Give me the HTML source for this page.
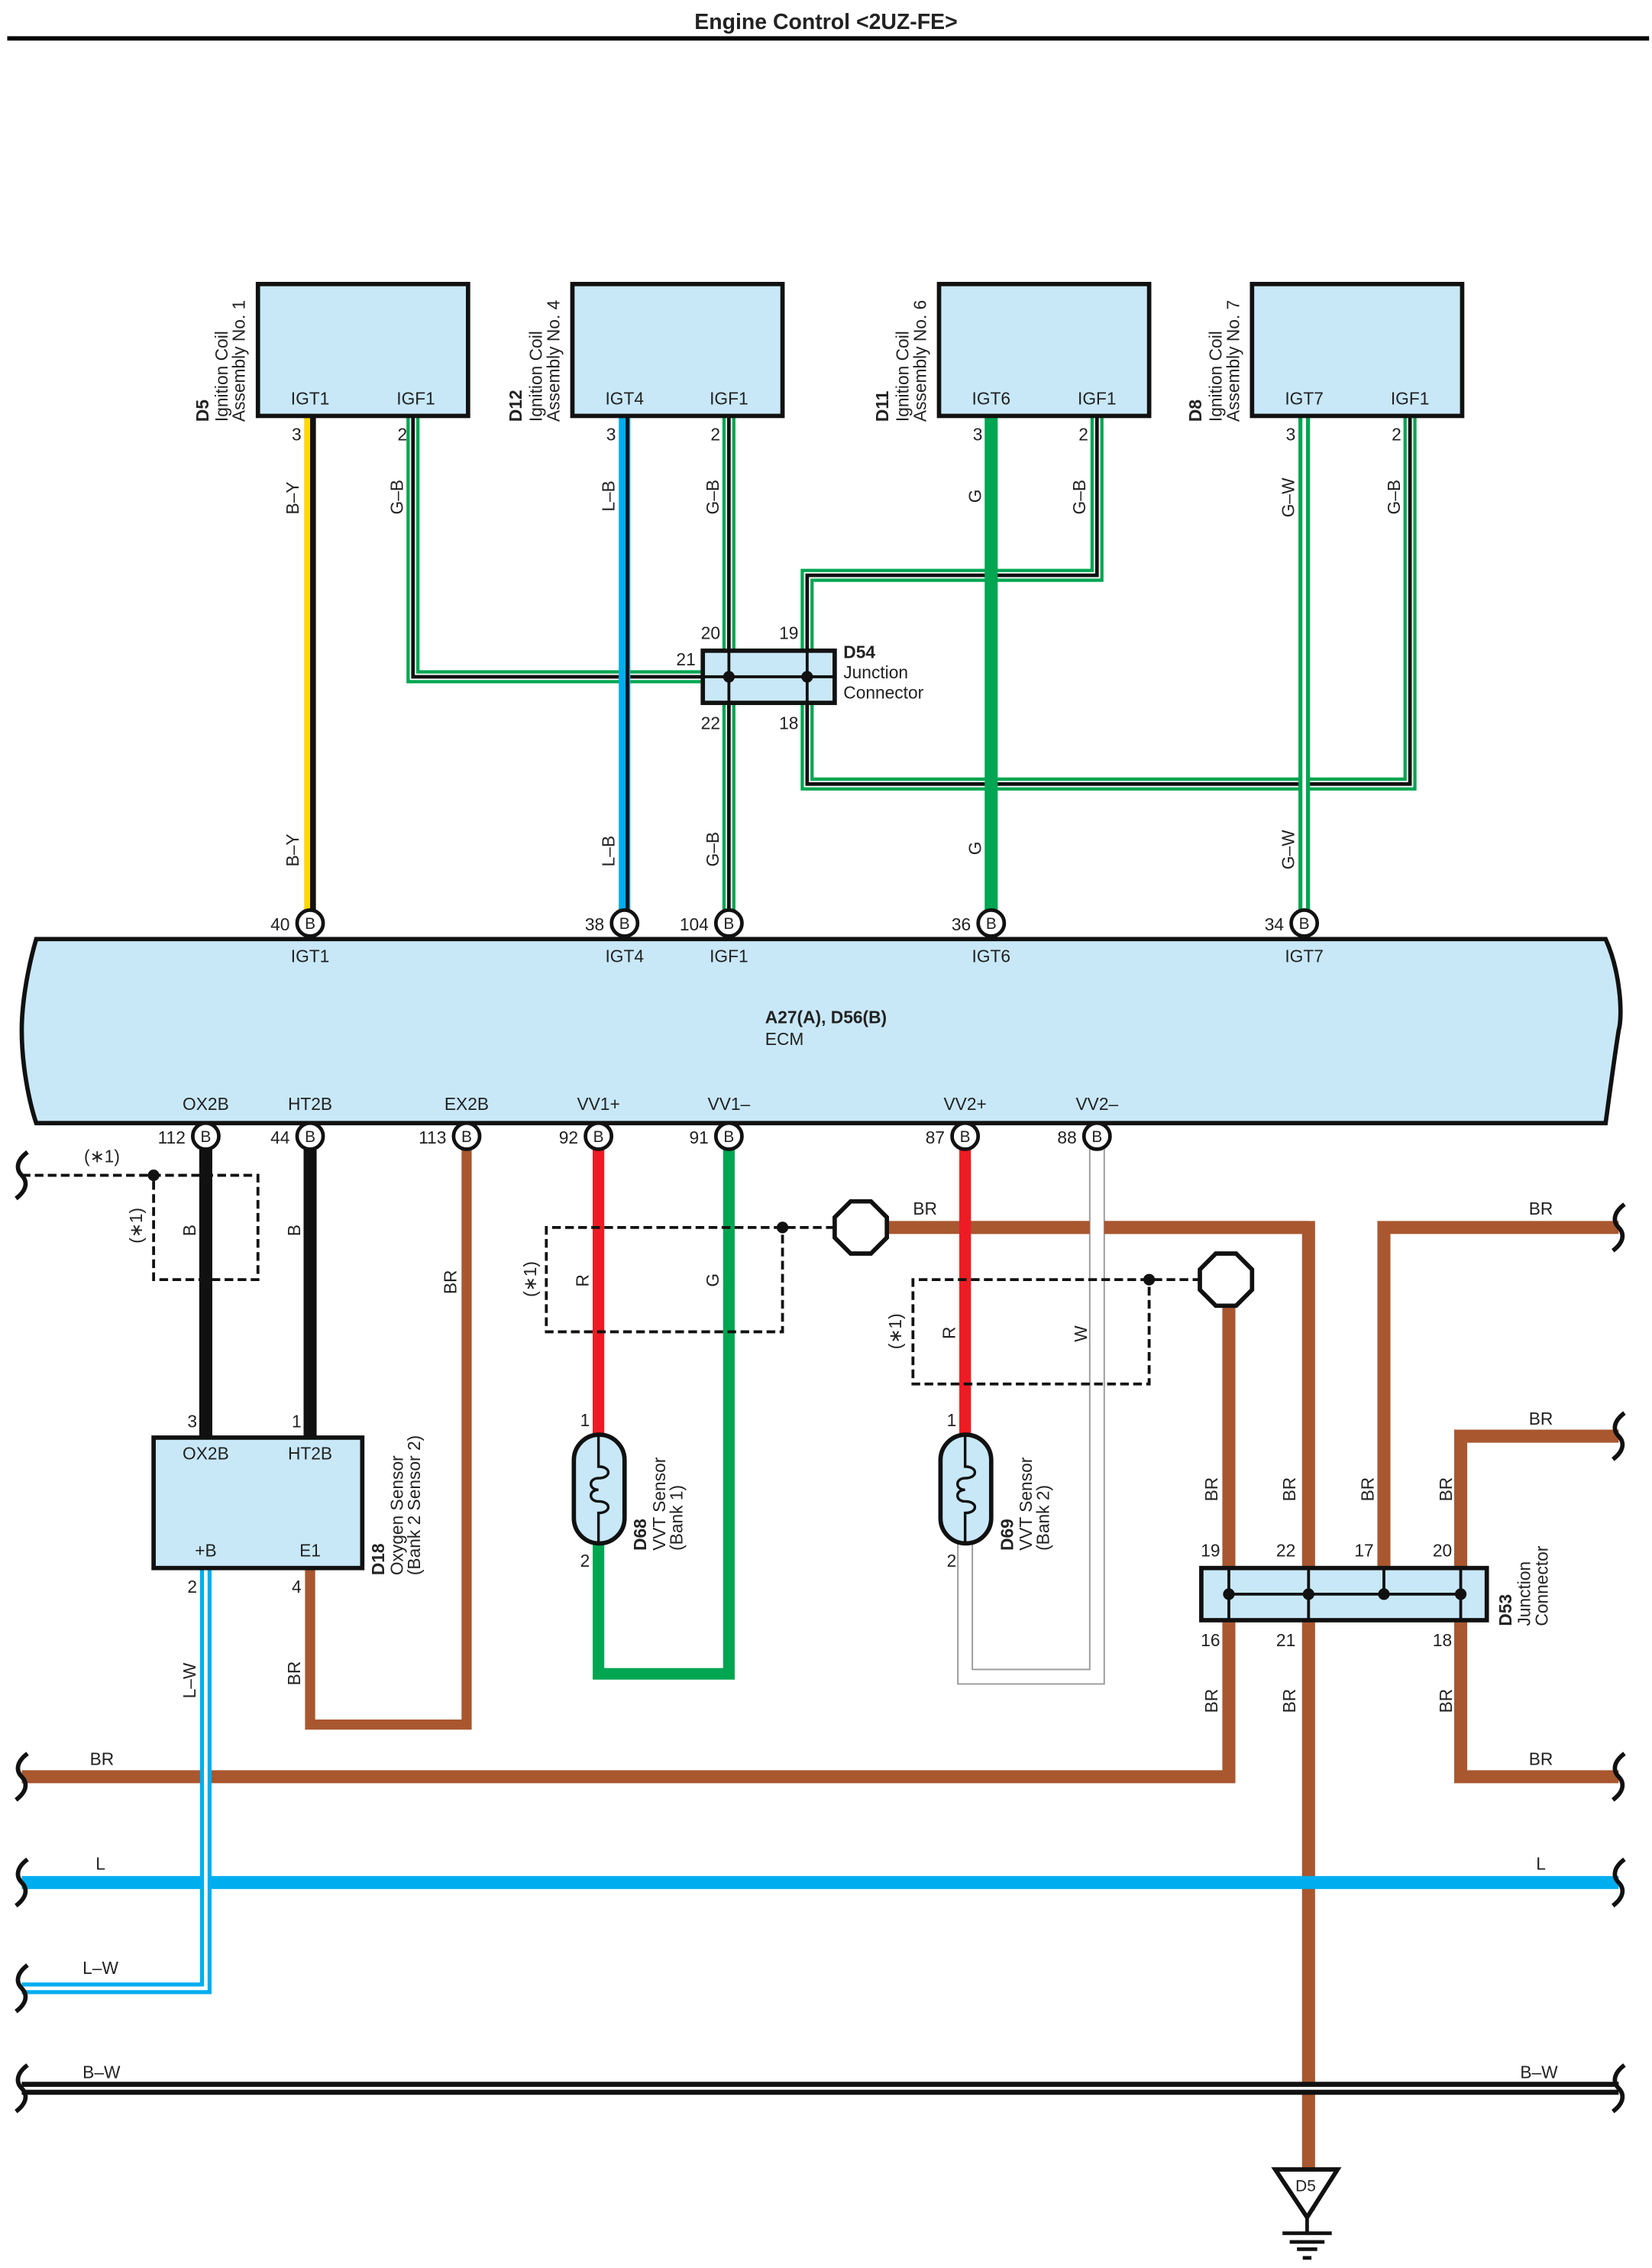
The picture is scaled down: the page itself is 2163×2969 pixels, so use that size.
<!DOCTYPE html>
<html><head><meta charset="utf-8"><style>
html,body{margin:0;padding:0;background:#fff}
svg{display:block}
text{font-family:"Liberation Sans",sans-serif;fill:#222}
</style></head><body>
<svg width="2163" height="2969" viewBox="0 0 1140 1565" preserveAspectRatio="none" xmlns="http://www.w3.org/2000/svg">
<defs>
<g id="sq"><path d="M4,-16 C-4,-10 -4,-4 0,0 C4,4 4,10 -4,16" fill="none" stroke="#111" stroke-width="3"/></g>
</defs>
<text x="570" y="20" font-size="15" font-weight="bold" text-anchor="middle" fill="#000">Engine Control &lt;2UZ-FE&gt;</text>
<rect x="5" y="25" width="1133" height="3" fill="#000"/>

<g fill="none" stroke-linejoin="miter">
<path d="M214,287V637" stroke="#111" stroke-width="8"/>
<path d="M212,287V637" stroke="#ffd800" stroke-width="4"/>
<path d="M285,287V467H486" stroke="#00a651" stroke-width="9"/>
<path d="M285,287V467H486" stroke="#fff" stroke-width="4.5"/>
<path d="M285,287V467H486" stroke="#111" stroke-width="2.5"/>
<path d="M431,287V637" stroke="#00aeef" stroke-width="8"/>
<path d="M433,287V637" stroke="#111" stroke-width="2.5"/>
<path d="M503,287V637" stroke="#00a651" stroke-width="9"/>
<path d="M503,287V637" stroke="#fff" stroke-width="4.5"/>
<path d="M503,287V637" stroke="#111" stroke-width="2.5"/>
<path d="M757,287V397H557V449" stroke="#00a651" stroke-width="9"/>
<path d="M757,287V397H557V449" stroke="#fff" stroke-width="4.5"/>
<path d="M757,287V397H557V449" stroke="#111" stroke-width="2.5"/>
<path d="M973,287V541H557V485" stroke="#00a651" stroke-width="9"/>
<path d="M973,287V541H557V485" stroke="#fff" stroke-width="4.5"/>
<path d="M973,287V541H557V485" stroke="#111" stroke-width="2.5"/>
<path d="M684,287V637" stroke="#00a651" stroke-width="9"/>
<path d="M900,287V637" stroke="#00a651" stroke-width="8"/>
<path d="M900,287V637" stroke="#fff" stroke-width="2.5"/>
</g>

<g fill="#c8e8f8" stroke="#111" stroke-width="3">
<rect x="178" y="196" width="145" height="91"/>
<rect x="395" y="196" width="145" height="91"/>
<rect x="648" y="196" width="145" height="91"/>
<rect x="864" y="196" width="145" height="91"/>
<rect x="485" y="449" width="91" height="36"/>
</g>
<g stroke="#111" stroke-width="2"><path d="M485,467H576M503,449V485M557,449V485"/></g>
<circle cx="503" cy="467" r="4" fill="#111"/><circle cx="557" cy="467" r="4" fill="#111"/>
<g font-size="12" text-anchor="middle">
<text x="214" y="279">IGT1</text><text x="287" y="279">IGF1</text>
<text x="431" y="279">IGT4</text><text x="503" y="279">IGF1</text>
<text x="684" y="279">IGT6</text><text x="757" y="279">IGF1</text>
<text x="900" y="279">IGT7</text><text x="973" y="279">IGF1</text>
</g>
<g font-size="12" text-anchor="end">
<text x="208" y="304">3</text><text x="281" y="304">2</text>
<text x="425" y="304">3</text><text x="497" y="304">2</text>
<text x="678" y="304">3</text><text x="751" y="304">2</text>
<text x="894" y="304">3</text><text x="967" y="304">2</text>
<text x="497" y="441">20</text><text x="551" y="441">19</text><text x="480" y="459">21</text>
<text x="497" y="503">22</text><text x="551" y="503">18</text>
</g>
<text x="582" y="454" font-size="12" font-weight="bold">D54</text>
<text x="582" y="468" font-size="12">Junction</text>
<text x="582" y="482" font-size="12">Connector</text>
<g font-size="12">
<g transform="translate(144,291) rotate(-90)"><text font-weight="bold">D5</text></g>
<g transform="translate(157,291) rotate(-90)"><text>Ignition Coil</text></g>
<g transform="translate(169,291) rotate(-90)"><text>Assembly No. 1</text></g>
<g transform="translate(360,291) rotate(-90)"><text font-weight="bold">D12</text></g>
<g transform="translate(374,291) rotate(-90)"><text>Ignition Coil</text></g>
<g transform="translate(386,291) rotate(-90)"><text>Assembly No. 4</text></g>
<g transform="translate(613,291) rotate(-90)"><text font-weight="bold">D11</text></g>
<g transform="translate(627,291) rotate(-90)"><text>Ignition Coil</text></g>
<g transform="translate(639,291) rotate(-90)"><text>Assembly No. 6</text></g>
<g transform="translate(829,291) rotate(-90)"><text font-weight="bold">D8</text></g>
<g transform="translate(843,291) rotate(-90)"><text>Ignition Coil</text></g>
<g transform="translate(855,291) rotate(-90)"><text>Assembly No. 7</text></g>
</g>
<g font-size="12">
<g transform="translate(206,355) rotate(-90)"><text>B–Y</text></g>
<g transform="translate(278,355) rotate(-90)"><text>G–B</text></g>
<g transform="translate(424,353) rotate(-90)"><text>L–B</text></g>
<g transform="translate(496,355) rotate(-90)"><text>G–B</text></g>
<g transform="translate(677,347) rotate(-90)"><text>G</text></g>
<g transform="translate(749,355) rotate(-90)"><text>G–B</text></g>
<g transform="translate(893,357) rotate(-90)"><text>G–W</text></g>
<g transform="translate(966,355) rotate(-90)"><text>G–B</text></g>
<g transform="translate(206,598) rotate(-90)"><text>B–Y</text></g>
<g transform="translate(424,598) rotate(-90)"><text>L–B</text></g>
<g transform="translate(496,598) rotate(-90)"><text>G–B</text></g>
<g transform="translate(677,590) rotate(-90)"><text>G</text></g>
<g transform="translate(893,600) rotate(-90)"><text>G–W</text></g>
</g>

<path d="M25,648 H1108 C1118,670 1120,700 1117,711 C1114,730 1110,760 1108,775 H25 C20,760 15,735 15,711 C15,690 20,665 25,648 Z" fill="#c8e8f8" stroke="#111" stroke-width="3"/>
<text x="528" y="706" font-size="12" font-weight="bold">A27(A), D56(B)</text>
<text x="528" y="721" font-size="12">ECM</text>
<g font-size="12" text-anchor="middle">
<text x="214" y="664">IGT1</text><text x="431" y="664">IGT4</text><text x="503" y="664">IGF1</text><text x="684" y="664">IGT6</text><text x="900" y="664">IGT7</text>
<text x="142" y="766">OX2B</text><text x="214" y="766">HT2B</text><text x="322" y="766">EX2B</text><text x="413" y="766">VV1+</text><text x="503" y="766">VV1–</text><text x="666" y="766">VV2+</text><text x="757" y="766">VV2–</text>
</g>

<g fill="none">
<path d="M612,847H903V1525" stroke="#a9572f" stroke-width="9"/>
<path d="M955,1082V847H1117" stroke="#a9572f" stroke-width="9"/>
<path d="M1008,1082V991H1117" stroke="#a9572f" stroke-width="9"/>
<path d="M1008,1118V1226H1117" stroke="#a9572f" stroke-width="9"/>
<path d="M848,901V1082M848,1118V1226H15" stroke="#a9572f" stroke-width="9"/>
<path d="M214,1082V1190H322V784" stroke="#a9572f" stroke-width="7"/>
<path d="M15,1299H1117" stroke="#00aeef" stroke-width="9"/>
<path d="M15,1441H1117" stroke="#111" stroke-width="9"/>
<path d="M15,1441H1117" stroke="#fff" stroke-width="2"/>
<path d="M142,1082V1372H15" stroke="#00aeef" stroke-width="8"/>
<path d="M142,1082V1372H15" stroke="#fff" stroke-width="2.5"/>
<path d="M142,784V992M214,784V992" stroke="#111" stroke-width="9"/>
<path d="M413,784V990M666,784V990" stroke="#ed1c24" stroke-width="8"/>
<path d="M413,1065V1155H503V784" stroke="#00a651" stroke-width="8"/>
<path d="M666,1065V1157H757V784" stroke="#999" stroke-width="11"/>
<path d="M666,1065V1157H757V784" stroke="#fff" stroke-width="9"/>
<path d="M670,847H752M762,847H903" stroke="#a9572f" stroke-width="9"/>
<path d="M666,800V990" stroke="#ed1c24" stroke-width="8"/>
</g>
<g fill="#fff" stroke="#111" stroke-width="2.5">
<circle cx="214" cy="637" r="9"/><circle cx="431" cy="637" r="9"/><circle cx="503" cy="637" r="9"/><circle cx="684" cy="637" r="9"/><circle cx="900" cy="637" r="9"/>
<circle cx="142" cy="784" r="9"/><circle cx="214" cy="784" r="9"/><circle cx="322" cy="784" r="9"/><circle cx="413" cy="784" r="9"/><circle cx="503" cy="784" r="9"/><circle cx="666" cy="784" r="9"/><circle cx="757" cy="784" r="9"/>
</g>
<g font-size="11" text-anchor="middle">
<text x="214" y="641">B</text><text x="431" y="641">B</text><text x="503" y="641">B</text><text x="684" y="641">B</text><text x="900" y="641">B</text>
<text x="142" y="788">B</text><text x="214" y="788">B</text><text x="322" y="788">B</text><text x="413" y="788">B</text><text x="503" y="788">B</text><text x="666" y="788">B</text><text x="757" y="788">B</text>
</g>
<g font-size="12" text-anchor="end">
<text x="200" y="642">40</text><text x="417" y="642">38</text><text x="489" y="642">104</text><text x="670" y="642">36</text><text x="886" y="642">34</text>
<text x="128" y="789">112</text><text x="200" y="789">44</text><text x="308" y="789">113</text><text x="399" y="789">92</text><text x="489" y="789">91</text><text x="652" y="789">87</text><text x="743" y="789">88</text>
</g>

<g fill="none" stroke="#111" stroke-width="2" stroke-dasharray="6,3">
<path d="M15,811H178V883H106V811"/>
<path d="M576,847H377V919H540V847"/>
<path d="M829,883H630V955H793V883"/>
</g>
<circle cx="106" cy="811" r="4" fill="#111"/><circle cx="540" cy="847" r="4" fill="#111"/><circle cx="793" cy="883" r="4" fill="#111"/>
<g fill="#fff" stroke="#111" stroke-width="3">
<polygon points="587,829 601,829 612,840 612,854 601,865 587,865 576,854 576,840"/>
<polygon points="839,865 853,865 864,876 864,890 853,901 839,901 828,890 828,876"/>
</g>
<g font-size="12">
<text x="58" y="802">(∗1)</text>
<g transform="translate(98,858) rotate(-90)"><text>(∗1)</text></g>
<g transform="translate(370,895) rotate(-90)"><text>(∗1)</text></g>
<g transform="translate(622,931) rotate(-90)"><text>(∗1)</text></g>
<g transform="translate(135,853) rotate(-90)"><text>B</text></g>
<g transform="translate(207,853) rotate(-90)"><text>B</text></g>
<g transform="translate(315,893) rotate(-90)"><text>BR</text></g>
<g transform="translate(406,888) rotate(-90)"><text>R</text></g>
<g transform="translate(496,888) rotate(-90)"><text>G</text></g>
<g transform="translate(659,924) rotate(-90)"><text>R</text></g>
<g transform="translate(750,926) rotate(-90)"><text>W</text></g>
<g transform="translate(135,1172) rotate(-90)"><text>L–W</text></g>
<g transform="translate(207,1163) rotate(-90)"><text>BR</text></g>
<text x="630" y="838">BR</text>
<text x="1055" y="838">BR</text><text x="1055" y="983">BR</text><text x="1055" y="1218">BR</text>
<text x="62" y="1218">BR</text>
<text x="66" y="1290">L</text><text x="1060" y="1290">L</text>
<text x="57" y="1362">L–W</text>
<text x="57" y="1434">B–W</text><text x="1049" y="1434">B–W</text>
<g transform="translate(840,1036) rotate(-90)"><text>BR</text></g>
<g transform="translate(894,1036) rotate(-90)"><text>BR</text></g>
<g transform="translate(948,1036) rotate(-90)"><text>BR</text></g>
<g transform="translate(1002,1036) rotate(-90)"><text>BR</text></g>
<g transform="translate(840,1182) rotate(-90)"><text>BR</text></g>
<g transform="translate(894,1182) rotate(-90)"><text>BR</text></g>
<g transform="translate(1002,1182) rotate(-90)"><text>BR</text></g>
</g>

<rect x="106" y="992" width="144" height="90" fill="#c8e8f8" stroke="#111" stroke-width="3"/>
<g font-size="12" text-anchor="middle">
<text x="142" y="1007">OX2B</text><text x="214" y="1007">HT2B</text><text x="142" y="1074">+B</text><text x="214" y="1074">E1</text>
</g>
<g font-size="12" text-anchor="end">
<text x="136" y="985">3</text><text x="208" y="985">1</text><text x="136" y="1099">2</text><text x="208" y="1099">4</text>
<text x="407" y="984">1</text><text x="407" y="1081">2</text><text x="660" y="984">1</text><text x="660" y="1081">2</text>
<text x="842" y="1074">19</text><text x="894" y="1074">22</text><text x="948" y="1074">17</text><text x="1002" y="1074">20</text>
<text x="842" y="1136">16</text><text x="894" y="1136">21</text><text x="1002" y="1136">18</text>
</g>
<g font-size="12">
<g transform="translate(265,1087) rotate(-90)"><text font-weight="bold">D18</text></g>
<g transform="translate(278,1087) rotate(-90)"><text>Oxygen Sensor</text></g>
<g transform="translate(290,1087) rotate(-90)"><text>(Bank 2 Sensor 2)</text></g>
<g transform="translate(446,1070) rotate(-90)"><text font-weight="bold">D68</text></g>
<g transform="translate(459,1070) rotate(-90)"><text>VVT Sensor</text></g>
<g transform="translate(471,1070) rotate(-90)"><text>(Bank 1)</text></g>
<g transform="translate(699,1070) rotate(-90)"><text font-weight="bold">D69</text></g>
<g transform="translate(712,1070) rotate(-90)"><text>VVT Sensor</text></g>
<g transform="translate(724,1070) rotate(-90)"><text>(Bank 2)</text></g>
<g transform="translate(1043,1122) rotate(-90)"><text font-weight="bold">D53</text></g>
<g transform="translate(1056,1122) rotate(-90)"><text>Junction</text></g>
<g transform="translate(1068,1122) rotate(-90)"><text>Connector</text></g>
</g>
<g fill="#c8e8f8" stroke="#111" stroke-width="3">
<rect x="396" y="990" width="35" height="75" rx="17.5"/>
<rect x="649" y="990" width="35" height="75" rx="17.5"/>
</g>
<g fill="none" stroke="#111" stroke-width="1.8">
<path d="M413,991V1012 C422,1012 422,1020 413,1020 C406,1020 406,1028 413,1028 C406,1028 406,1036 413,1036 C422,1036 422,1044 413,1044V1064"/>
<path d="M666,991V1012 C675,1012 675,1020 666,1020 C659,1020 659,1028 666,1028 C659,1028 659,1036 666,1036 C675,1036 675,1044 666,1044V1064"/>
</g>
<rect x="829" y="1082" width="197" height="36" fill="#c8e8f8" stroke="#111" stroke-width="3"/>
<g stroke="#111" stroke-width="2"><path d="M848,1100H1008M848,1082V1118M903,1082V1118M955,1082V1100M1008,1082V1118"/></g>
<g fill="#111"><circle cx="848" cy="1100" r="4"/><circle cx="903" cy="1100" r="4"/><circle cx="955" cy="1100" r="4"/><circle cx="1008" cy="1100" r="4"/></g>
<polygon points="880,1497 923,1497 902,1530" fill="#fff" stroke="#111" stroke-width="3"/>
<text x="901" y="1512" font-size="11" text-anchor="middle">D5</text>
<g stroke="#111" stroke-width="2.5"><path d="M902,1530V1540M885,1541H919M890,1547H914M895,1552H909M899,1558H905"/></g>
<use href="#sq" x="15" y="811"/><use href="#sq" x="15" y="1226"/><use href="#sq" x="15" y="1299"/><use href="#sq" x="15" y="1372"/><use href="#sq" x="15" y="1441"/>
<use href="#sq" x="1117" y="847"/><use href="#sq" x="1117" y="991"/><use href="#sq" x="1117" y="1226"/><use href="#sq" x="1117" y="1299"/><use href="#sq" x="1117" y="1441"/>
</svg>
</body></html>
